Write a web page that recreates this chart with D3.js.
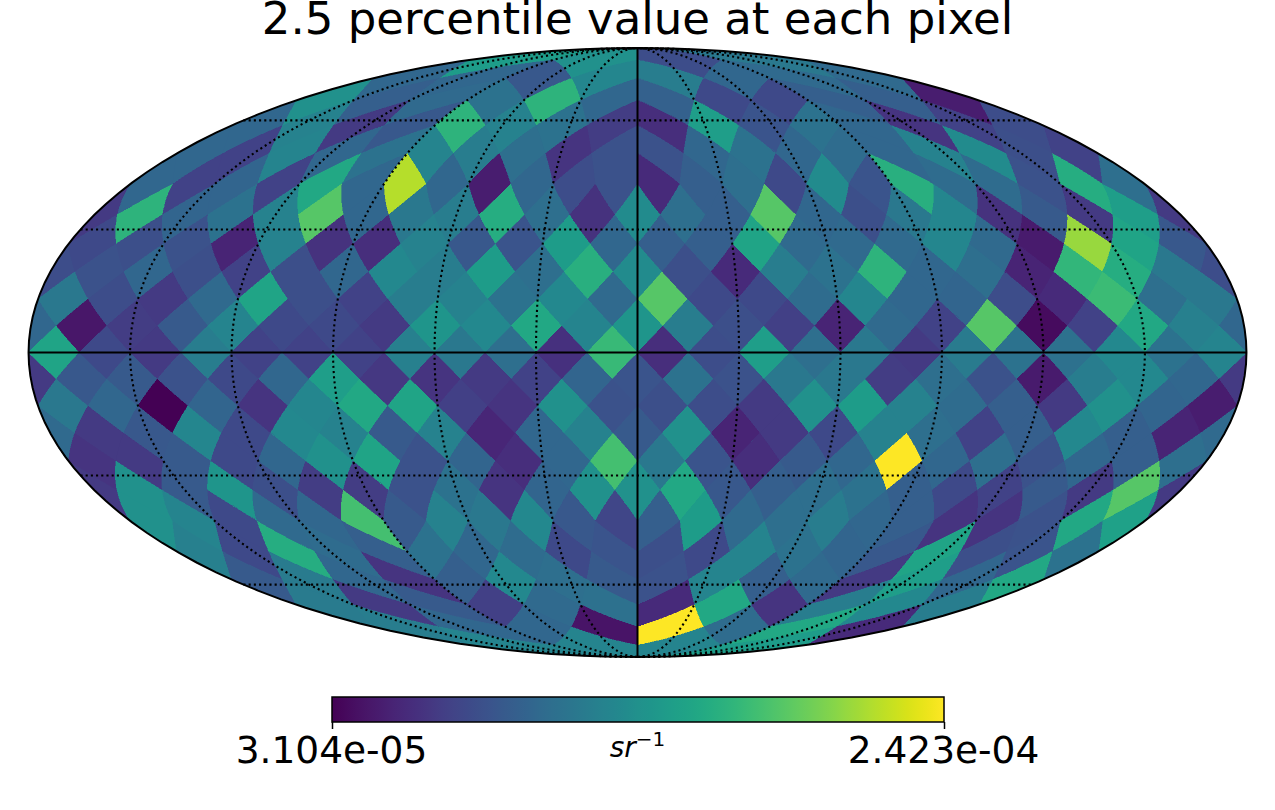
<!DOCTYPE html>
<html>
<head>
<meta charset="utf-8">
<title>2.5 percentile value at each pixel</title>
<script src="https://cdn.jsdelivr.net/npm/d3@7"></script>
<style>
    html, body { margin: 0; padding: 0; background: #fff; }
    svg { display: block; font-family: "DejaVu Sans", sans-serif; }
</style>
</head>
<body>
<svg id="chart" width="1275" height="810"></svg>
<script>
// Pixel values in units of 1e-5 sr^-1, one list per HEALPix ring (nside 6),
// north to south and left to right as seen on the map.
const ring01 = [14.7, 13.7, 8.0, 11.6];
const ring02 = [10.1, 10.1, 8.8, 12.8, 12.0, 10.1, 10.3, 10.3];
const ring03 = [13.7, 9.4, 10.3, 11.1, 16.8, 10.1, 9.6, 7.8, 7.8, 9.4, 9.4, 4.8];
const ring04 = [10.1, 12.4, 6.7, 8.8, 16.8, 12.4, 11.1, 6.9, 5.9, 14.9, 8.6, 11.1, 10.1, 6.3, 7.3, 8.0];
const ring05 = [10.1, 7.3, 12.6, 10.1, 11.1, 12.6, 12.0, 10.7, 6.3, 8.4, 8.4, 10.1, 11.1, 10.1, 10.5, 10.1, 12.4, 13.2, 8.2, 7.3];
const ring06 = [10.1, 7.3, 9.9, 7.3, 15.8, 10.1, 21.9, 10.1, 4.8, 10.1, 8.0, 8.4, 5.6, 9.4, 10.7, 7.8, 13.2, 8.6, 16.4, 10.5, 10.5, 8.4, 16.2, 10.7];
const ring07 = [6.7, 16.8, 9.9, 11.1, 12.4, 18.7, 10.1, 11.6, 12.0, 16.2, 10.7, 6.1, 13.2, 10.7, 9.4, 18.7, 10.1, 8.2, 11.6, 12.8, 6.1, 9.0, 6.7, 14.9];
const ring08 = [7.8, 8.2, 8.4, 5.2, 12.4, 6.1, 5.9, 12.4, 8.8, 8.6, 14.7, 10.1, 9.4, 9.4, 15.4, 10.3, 10.3, 10.3, 12.8, 10.3, 4.6, 21.0, 15.4, 8.8];
const ring09 = [8.0, 8.4, 10.1, 8.2, 7.3, 8.2, 10.1, 13.0, 12.0, 14.7, 10.7, 16.4, 13.2, 8.2, 5.6, 12.0, 11.1, 16.8, 10.1, 10.7, 5.2, 17.0, 16.2, 11.6];
const ring10 = [11.6, 8.0, 6.7, 10.3, 15.4, 8.2, 7.3, 12.0, 12.4, 11.1, 13.0, 10.3, 18.7, 7.8, 7.8, 10.5, 12.8, 10.1, 9.9, 8.0, 5.6, 17.5, 10.7, 11.6];
const ring11 = [10.1, 4.4, 6.9, 9.0, 12.6, 7.8, 7.8, 6.7, 14.1, 13.0, 15.8, 12.6, 14.1, 12.0, 8.2, 7.1, 5.2, 10.3, 7.3, 18.7, 3.7, 7.3, 15.8, 12.2];
const ring12 = [15.4, 7.8, 6.7, 12.0, 7.3, 7.3, 7.3, 12.2, 11.6, 10.7, 6.0, 17.3, 5.9, 8.0, 14.9, 10.7, 11.6, 6.7, 11.8, 11.1, 10.9, 13.0, 11.1, 12.6];
const ring13 = [6.7, 8.8, 9.0, 8.4, 7.8, 10.1, 14.9, 6.5, 6.3, 6.7, 7.3, 9.9, 8.6, 11.1, 8.4, 11.6, 11.6, 6.9, 10.7, 8.4, 4.6, 12.0, 13.0, 10.1];
const ring14 = [11.6, 10.1, 3.104, 9.9, 6.3, 12.8, 15.8, 15.4, 7.1, 6.3, 13.7, 8.4, 8.2, 8.0, 6.7, 13.7, 14.7, 12.4, 10.5, 9.4, 6.7, 13.7, 9.9, 4.8];
const ring15 = [10.3, 6.7, 8.8, 12.8, 7.8, 13.0, 12.4, 9.0, 12.4, 5.4, 10.1, 12.4, 9.0, 13.7, 5.2, 6.7, 7.8, 12.4, 10.7, 7.3, 9.4, 13.0, 9.4, 5.2];
const ring16 = [6.3, 6.7, 9.0, 7.8, 10.1, 13.7, 15.4, 8.4, 9.9, 5.9, 10.1, 17.9, 11.6, 8.6, 5.9, 9.0, 10.1, 24.23, 10.1, 10.7, 8.4, 10.1, 9.4, 10.7];
const ring17 = [6.7, 13.7, 9.0, 14.1, 8.2, 6.9, 6.9, 8.4, 11.1, 6.3, 9.9, 13.7, 13.7, 15.8, 8.8, 9.4, 10.7, 11.1, 9.4, 7.8, 7.3, 9.0, 6.7, 18.7];
const ring18 = [13.7, 12.6, 7.8, 10.3, 10.1, 17.9, 9.0, 12.4, 11.6, 13.0, 8.8, 7.5, 9.4, 14.7, 10.3, 10.7, 12.0, 10.1, 9.4, 6.3, 6.3, 8.4, 15.8, 15.1];
const ring19 = [12.2, 7.8, 16.2, 10.5, 9.4, 11.1, 10.1, 10.5, 7.8, 8.6, 8.2, 7.8, 12.6, 11.1, 9.9, 8.8, 15.4, 8.2, 8.6, 11.1];
const ring20 = [9.0, 11.8, 10.1, 6.3, 9.4, 13.0, 10.7, 9.0, 8.4, 12.6, 9.4, 10.3, 6.7, 14.9, 10.1, 15.8];
const ring21 = [11.8, 6.7, 9.0, 7.1, 10.3, 10.9, 5.6, 15.8, 6.3, 12.0, 13.0, 12.0];
const ring22 = [12.0, 10.1, 10.1, 4.2, 24.23, 10.5, 15.8, 5.6];
const ring23 = [12.6, 12.6, 12.6, 14.7];

const rings = [ring01, ring02, ring03, ring04, ring05, ring06, ring07, ring08, ring09, ring10, ring11, ring12,
    ring13, ring14, ring15, ring16, ring17, ring18, ring19, ring20, ring21, ring22, ring23];

const vmin = 3.104;
const vmax = 24.23;
const tickLabels = ['3.104e-05', '2.423e-04'];
const gratMeridians = [-150, -120, -90, -60, -30, 30, 60, 90, 120, 150];
const gratParallels = [-60, -30, 30, 60];
const titleText = '2.5 percentile value at each pixel';
const NSIDE = 6;

const svg = d3.select('#chart');
const color = d3.scaleSequential(d3.interpolateViridis).domain([vmin, vmax]);

// Mollweide, which is not in d3-geo itself
function mollweideRaw(lambda, phi) {
    let theta = phi;
    if (Math.abs(Math.abs(phi) - Math.PI / 2) < 1e-9) {
        theta = phi;
    } else {
        const k = Math.PI * Math.sin(phi);
        for (let n = 0; n < 40; n++) {
            const t = 2 * theta;
            const d = (t + Math.sin(t) - k) / (2 + 2 * Math.cos(t));
            theta -= d;
            if (Math.abs(d) < 1e-9) break;
        }
    }
    return [2 * Math.SQRT2 / Math.PI * lambda * Math.cos(theta), Math.SQRT2 * Math.sin(theta)];
}

const projection = d3.geoProjection(mollweideRaw)
    .scale(215.3)
    .translate([637.5, 352.5])
    .precision(0.2);
const path = d3.geoPath(projection);

// HEALPix projection plane (xs, ys) back to lon/lat in degrees
function planeToLonLat(xs, ys) {
    const ay = Math.abs(ys);
    const sign = ys < 0 ? -1 : 1;
    const deg = 180 / Math.PI;
    if (ay <= Math.PI / 4) {
        return [xs * deg, Math.asin(8 / (3 * Math.PI) * ys) * deg];
    }
    const xc = -3 * Math.PI / 4 + Math.PI / 2 * Math.floor((xs + Math.PI) / (Math.PI / 2));
    if (ay >= Math.PI / 2 - 1e-9) return [xc * deg, sign * 90];
    const lon = xs - (ay - Math.PI / 4) / (ay - Math.PI / 2) * (xs - xc);
    const w = 2 - 4 * ay / Math.PI;
    return [lon * deg, sign * Math.asin(1 - w * w / 3) * deg];
}

// Diamond around a pixel centre, edges sampled because they are not great arcs
function pixelPolygon(xs, ys) {
    const d = Math.PI / (4 * NSIDE) * 0.999999;
    const corners = [[xs, ys + d], [xs + d, ys], [xs, ys - d], [xs - d, ys], [xs, ys + d]];
    const pts = [];
    for (let c = 0; c < 4; c++) {
        for (let s = 0; s < 8; s++) {
            const f = s / 8;
            pts.push(planeToLonLat(
                corners[c][0] + (corners[c + 1][0] - corners[c][0]) * f,
                corners[c][1] + (corners[c + 1][1] - corners[c][1]) * f
            ));
        }
    }
    pts.push(pts[0].slice());
    const poly = { type: 'Polygon', coordinates: [pts] };
    if (d3.geoArea(poly) > 2 * Math.PI) pts.reverse();
    return poly;
}

// Build one feature per value, in ring order
const pixels = [];
rings.forEach((ring, r) => {
    const i = r + 1;
    const ys = Math.PI / 2 - i * Math.PI / (4 * NSIDE);
    const step = Math.PI / (2 * NSIDE);
    ring.forEach((value, k) => {
        let xs;
        if (i < NSIDE || i > 3 * NSIDE) {
            const perFacet = ring.length / 4;
            const facet = Math.floor(k / perFacet);
            const xc = -3 * Math.PI / 4 + facet * Math.PI / 2;
            xs = xc + (k - facet * perFacet - (perFacet - 1) / 2) * step;
        } else {
            xs = -Math.PI + (k + (i % 2 === 0 ? 0.5 : 0)) * step;
        }
        pixels.push({ value, poly: pixelPolygon(xs, ys) });
    });
});

// Backing fill so no white shows through at pixel corners
svg.append('path')
    .attr('d', path({ type: 'Sphere' }))
    .attr('fill', color(9.5));

svg.append('g')
    .selectAll('path')
    .data(pixels)
    .join('path')
    .attr('d', d => path(d.poly))
    .attr('fill', d => color(d.value))
    .attr('stroke', d => color(d.value))
    .attr('stroke-width', 0.4)
    .attr('shape-rendering', 'crispEdges');

// Graticule
const grat = svg.append('g').attr('fill', 'none').attr('stroke', '#000');
const meridianLine = lon => ({ type: 'LineString', coordinates: d3.range(-90, 90.1, 3).map(lat => [lon, lat]) });
const parallelLine = lat => ({ type: 'LineString', coordinates: d3.range(-180, 180.1, 3).map(lon => [lon, lat]) });

gratMeridians.map(meridianLine).concat(gratParallels.map(parallelLine)).forEach(line => {
    grat.append('path')
        .attr('d', path(line))
        .attr('stroke-width', 2.1)
        .attr('stroke-dasharray', '2.1,3.1');
});
[meridianLine(0), parallelLine(0)].forEach(line => {
    grat.append('path').attr('d', path(line)).attr('stroke-width', 2);
});

// Map outline
svg.append('path')
    .attr('d', path({ type: 'Sphere' }))
    .attr('fill', 'none')
    .attr('stroke', '#000')
    .attr('stroke-width', 2);

// Title
svg.append('text')
    .attr('x', 637.5)
    .attr('y', 34)
    .attr('text-anchor', 'middle')
    .attr('font-size', 45)
    .attr('fill', '#000')
    .text(titleText);

// Colorbar
const barX = d3.scaleLinear().domain([vmin, vmax]).range([332, 944]);
const gradient = svg.append('defs').append('linearGradient').attr('id', 'viridisBar');
d3.range(0, 1.001, 0.02).forEach(t => {
    gradient.append('stop')
        .attr('offset', t)
        .attr('stop-color', d3.interpolateViridis(t));
});
svg.append('rect')
    .attr('x', barX(vmin))
    .attr('y', 697)
    .attr('width', barX(vmax) - barX(vmin))
    .attr('height', 25)
    .attr('fill', 'url(#viridisBar)')
    .attr('stroke', '#000')
    .attr('stroke-width', 1.5);

const axis = d3.axisBottom(barX)
    .tickValues([vmin, vmax])
    .tickFormat((d, i) => tickLabels[i])
    .tickSize(7)
    .tickPadding(7);
const axisG = svg.append('g')
    .attr('transform', 'translate(0,722)')
    .call(axis);
axisG.select('.domain').remove();
axisG.selectAll('.tick line').attr('stroke-width', 1.5);
axisG.selectAll('.tick text')
    .attr('font-family', '"DejaVu Sans", sans-serif')
    .attr('font-size', 37.5)
    .attr('dx', -1)
    .attr('fill', '#000');

// Unit label
const unit = svg.append('text')
    .attr('x', 637.5)
    .attr('y', 757)
    .attr('text-anchor', 'middle')
    .attr('font-size', 28)
    .attr('fill', '#000');
unit.append('tspan').attr('font-style', 'italic').text('sr');
unit.append('tspan').attr('dy', -11).attr('font-size', 20).text('\u22121');
</script>
</body>
</html>
